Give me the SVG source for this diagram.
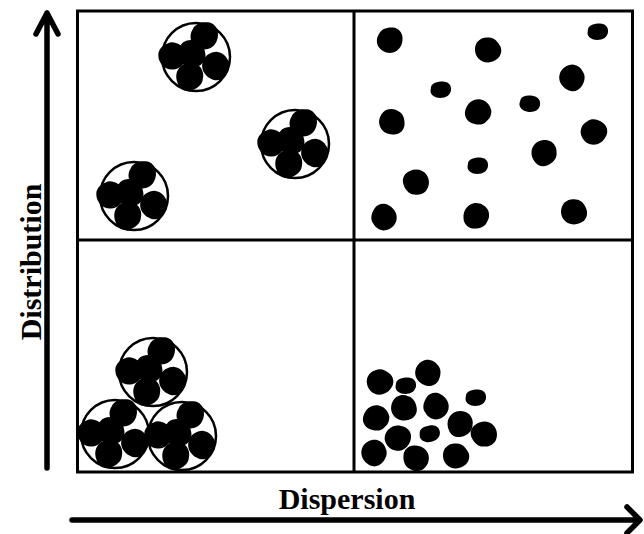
<svg xmlns="http://www.w3.org/2000/svg" xmlns:xlink="http://www.w3.org/1999/xlink" width="644" height="534" viewBox="0 0 644 534">
  <style>
    .frame { fill: none; stroke: #000; stroke-width: 3; }
    .ring { fill: none; stroke: #000; stroke-width: 2.5; }
    .axis { fill: none; stroke: #000; stroke-width: 5.5; stroke-linecap: round; stroke-linejoin: round; }
    .blob { fill: #000; }
    .label { font-family: "Liberation Serif", "Times New Roman", serif; font-size: 30px; font-weight: bold; fill: #000; }
  </style>
  <defs>
    <!-- irregular particle shapes -->
    <path id="big" class="blob" d="M-11,-6 C-9,-11 -3,-13 3,-12.5 C8,-12 12.5,-8 12.5,-2 C13,5 9,11 3,12.5 C-3,14 -9,11 -12,6 C-14,1 -13,-3 -11,-6 Z"/>
    <path id="small" class="blob" d="M-10,-3 C-9,-7 -4,-8.5 2,-8.5 C7,-8.5 10.5,-5 10,0 C9.5,5 5,8 -1,8 C-6,8 -10.5,5 -10.5,1 Z"/>
    <!-- agglomerate: five particles inside a ring -->
    <g id="agglomerate">
      <circle class="ring" cx="0" cy="0" r="34"/>
      <g transform="scale(1.07)">
        <use xlink:href="#big" x="8" y="-20"/>
        <use xlink:href="#big" x="-22" y="-1" transform="rotate(40 -22 -1)"/>
        <use xlink:href="#big" x="-4" y="-3" transform="rotate(80 -4 -3)"/>
        <use xlink:href="#big" x="-6" y="18.5" transform="rotate(160 -6 18.5)"/>
        <use xlink:href="#big" x="18.5" y="8.5" transform="rotate(120 18.5 8.5)"/>
      </g>
    </g>
  </defs>

  <rect width="644" height="534" fill="#fff"/>

  <!-- quadrant frame -->
  <g id="frame">
    <rect class="frame" x="77.5" y="11" width="555" height="461"/>
    <line class="frame" x1="354" y1="11" x2="354" y2="472"/>
    <line class="frame" x1="77.5" y1="240" x2="632.5" y2="240"/>
  </g>

  <!-- top-left: dispersed agglomerates -->
  <g id="q-top-left">
    <use xlink:href="#agglomerate" x="196" y="57"/>
    <use xlink:href="#agglomerate" x="295" y="144"/>
    <use xlink:href="#agglomerate" x="134" y="196"/>
  </g>

  <!-- top-right: dispersed single particles -->
  <g id="q-top-right">
    <use xlink:href="#big" x="390" y="40"/>
    <use xlink:href="#big" x="488" y="50" transform="rotate(60 488 50)"/>
    <use xlink:href="#small" x="598" y="32"/>
    <use xlink:href="#big" x="572" y="78" transform="rotate(120 572 78)"/>
    <use xlink:href="#small" x="441" y="90"/>
    <use xlink:href="#big" x="478" y="112" transform="rotate(200 478 112)"/>
    <use xlink:href="#small" x="530" y="104" transform="rotate(10 530 104)"/>
    <use xlink:href="#big" x="392" y="122" transform="rotate(90 392 122)"/>
    <use xlink:href="#big" x="594" y="132" transform="rotate(30 594 132)"/>
    <use xlink:href="#big" x="544" y="153" transform="rotate(150 544 153)"/>
    <use xlink:href="#small" x="478" y="166"/>
    <use xlink:href="#big" x="416" y="182" transform="rotate(250 416 182)"/>
    <use xlink:href="#big" x="384" y="217" transform="rotate(300 384 217)"/>
    <use xlink:href="#big" x="476" y="216" transform="rotate(180 476 216)"/>
    <use xlink:href="#big" x="574" y="212" transform="rotate(70 574 212)"/>
  </g>

  <!-- bottom-left: packed agglomerates -->
  <g id="q-bottom-left">
    <use xlink:href="#agglomerate" x="153" y="372"/>
    <use xlink:href="#agglomerate" x="115" y="434"/>
    <use xlink:href="#agglomerate" x="182" y="436"/>
  </g>

  <!-- bottom-right: packed single particles -->
  <g id="q-bottom-right">
    <use xlink:href="#big" x="380" y="382" transform="rotate(40 380 382)"/>
    <use xlink:href="#small" x="406" y="386"/>
    <use xlink:href="#big" x="428" y="373" transform="rotate(110 428 373)"/>
    <use xlink:href="#small" x="476" y="398"/>
    <use xlink:href="#big" x="376" y="418" transform="rotate(200 376 418)"/>
    <use xlink:href="#big" x="404" y="408" transform="rotate(80 404 408)"/>
    <use xlink:href="#big" x="436" y="406" transform="rotate(300 436 406)"/>
    <use xlink:href="#big" x="460" y="424" transform="rotate(160 460 424)"/>
    <use xlink:href="#big" x="398" y="438" transform="rotate(20 398 438)"/>
    <use xlink:href="#small" x="430" y="434" transform="rotate(-8 430 434)"/>
    <use xlink:href="#big" x="484" y="434" transform="rotate(240 484 434)"/>
    <use xlink:href="#big" x="374" y="453" transform="rotate(130 374 453)"/>
    <use xlink:href="#big" x="416" y="458" transform="rotate(270 416 458)"/>
    <use xlink:href="#big" x="456" y="456" transform="rotate(60 456 456)"/>
  </g>

  <!-- axes -->
  <g id="connectors">
    <path class="axis" d="M47,468 L47,13 M36,34 L47,13 L58,34"/>
    <path class="axis" d="M72,520 L639,520 M627,507 L640,520 L627,533"/>
  </g>

  <g id="axis-labels">
    <text class="label" x="347" y="509" text-anchor="middle">Dispersion</text>
    <text class="label" x="0" y="0" text-anchor="middle" transform="translate(41 262) rotate(-90)">Distribution</text>
  </g>
</svg>
